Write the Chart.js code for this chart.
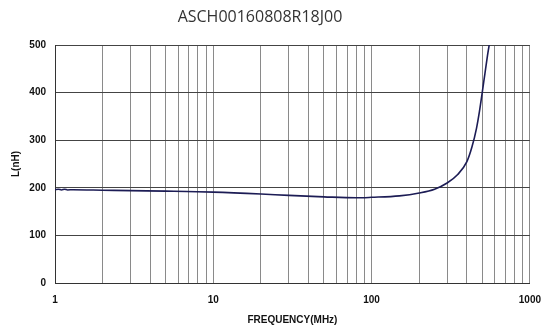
<!DOCTYPE html>
<html>
<head>
<meta charset="utf-8">
<script src="https://cdn.jsdelivr.net/npm/chart.js@4"></script>
<style>
  html, body { margin: 0; padding: 0; background: #fff; }
  #wrap { width: 552px; height: 333px; }
</style>
</head>
<body>
<div id="wrap"><canvas id="chart"></canvas></div>
<script>
// ASCH00160808R18J00 - inductance vs frequency
const chartTitle = 'ASCH00160808R18J00'
const freqMHz = [1, 1.05, 1.1, 1.15, 1.2, 1.3, 2, 3, 5, 10, 20, 30, 50, 80, 100, 150, 200, 250, 300, 350, 400, 430, 460, 480, 500, 520, 540, 560]
const inductance = [196, 197, 195.5, 197, 195.5, 196, 195, 194, 193, 191, 187, 184, 181, 179, 180, 183, 189, 197, 210, 228, 255, 285, 325, 360, 400, 440, 478, 510]
const xTicks = [1, 2, 3, 4, 5, 6, 7, 8, 9, 10, 20, 30, 40, 50, 60, 70, 80, 90, 100, 200, 300, 400, 500, 600, 700, 800, 900, 1000]
const xLabels = [1, 10, 100, 1000]

const points = freqMHz.map((f, i) => ({ x: f, y: inductance[i] }))

// title drawn by hand so it can sit a little left of centre like the original
const titlePlugin = {
  id: 'leftTitle',
  afterDraw(chart) {
    const c = chart.ctx
    c.save()
    c.font = '16px "Open Sans"'
    c.fillStyle = '#333'
    c.textAlign = 'center'
    c.textBaseline = 'middle'
    c.fillText(chartTitle, 260, 17)
    c.restore()
  }
}

const ctx = document.getElementById('chart')
const lineGraph = new Chart(ctx, {
  type: 'line',
  data: {
    datasets: [{
      data: points,
      borderColor: '#1c1c55',
      borderWidth: 1.6,
      pointRadius: 0,
      cubicInterpolationMode: 'monotone',
      fill: false
    }]
  },
  options: {
    responsive: true,
    maintainAspectRatio: false,
    animation: false,
    layout: { padding: { top: 45, right: 21, left: 0, bottom: 0 } },
    plugins: {
      legend: { display: false },
      title: { display: false },
      tooltip: { enabled: false }
    },
    scales: {
      x: {
        type: 'logarithmic',
        min: 1,
        max: 1000,
        afterBuildTicks: (scale) => { scale.ticks = xTicks.map(v => ({ value: v })) },
        afterFit: (scale) => { scale.height = 50 },
        ticks: {
          autoSkip: false,
          maxRotation: 0,
          padding: 11,
          color: '#111',
          font: { family: '"Liberation Sans", Arial', size: 10, weight: 'bold' },
          callback: (v) => xLabels.includes(v) ? String(v) : ''
        },
        grid: { color: '#8a8a8a', lineWidth: 1, drawTicks: false },
        border: { color: '#333', width: 1 },
        title: {
          display: true,
          text: 'FREQUENCY(MHz)',
          color: '#111',
          font: { family: '"Liberation Sans", Arial', size: 10, weight: 'bold' },
          padding: { top: 0, bottom: 7 }
        }
      },
      y: {
        min: 0,
        max: 500,
        afterFit: (scale) => { scale.width = 55 },
        ticks: {
          stepSize: 100,
          padding: 9,
          color: '#111',
          font: { family: '"Liberation Sans", Arial', size: 10, weight: 'bold' }
        },
        grid: { color: '#444', lineWidth: 1, drawTicks: false },
        border: { color: '#333', width: 1 },
        title: {
          display: true,
          text: 'L(nH)',
          color: '#111',
          font: { family: '"Liberation Sans", Arial', size: 10, weight: 'bold' },
          padding: { top: 10, bottom: 0 }
        }
      }
    }
  },
  plugins: [titlePlugin]
})
</script>
</body>
</html>
